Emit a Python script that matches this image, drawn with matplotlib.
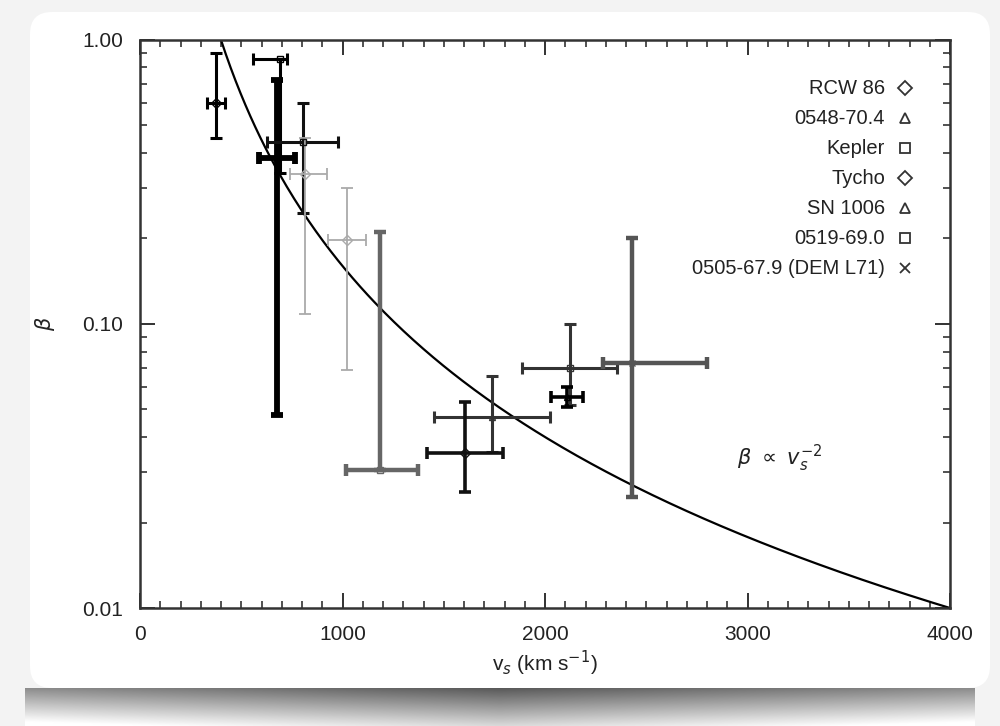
import numpy as np
import matplotlib
matplotlib.use("Agg")
import matplotlib.pyplot as plt
from matplotlib.patches import FancyBboxPatch
from matplotlib.ticker import FixedLocator, MultipleLocator, LogLocator, NullFormatter

# shock velocity (km/s) and beta = Te/Tp
v       = [375, 691, 676, 805, 815, 1022, 1185, 1738, 1605, 2123, 2109, 2430]
v_lo    = [45, 135, 90, 180, 75, 95, 170, 285, 190, 235, 80, 145]
v_hi    = [45, 35, 90, 175, 110, 95, 190, 285, 190, 235, 80, 370]
beta    = [0.60, 0.86, 0.384, 0.437, 0.337, 0.197, 0.0307, 0.047, 0.0352, 0.070, 0.0553, 0.0729]
beta_lo = [0.45, 0.34, 0.048, 0.246, 0.108, 0.069, 0.0307, 0.0354, 0.0257, 0.052, 0.051, 0.0245]
beta_hi = [0.90, 0.86, 0.72, 0.60, 0.45, 0.30, 0.211, 0.0656, 0.0533, 0.100, 0.060, 0.200]

# style of each point
cols   = ['k', 'k', 'k', '#111111', '#aaaaaa', '#aaaaaa', '#666666', '#333333', '#111111', '#333333', 'k', '#555555']
widths = [2.2, 2.2, 4.2, 2.2, 1.3, 1.3, 3.2, 2.2, 2.6, 2.2, 2.6, 3.2]
marks  = ['D', 's', '^', 's', 'D', 'D', 's', '^', 'D', 's', '^', 'x']

names = ['RCW 86', '0548-70.4', 'Kepler', 'Tycho', 'SN 1006', '0519-69.0', '0505-67.9 (DEM L71)']
name_marks = ['D', '^', 's', 'D', '^', 's', 'x']

x_ticks = [0, 1000, 2000, 3000, 4000]
y_ticks = [0.01, 0.1, 1.0]
y_labels = ['0.01', '0.10', '1.00']

plt.rcParams['font.family'] = ['Liberation Sans', 'DejaVu Sans']

fig = plt.figure(figsize=(10, 7.26), dpi=100)
fig.patch.set_facecolor('#f3f3f3')

# paper card + shadow underneath
bg = fig.add_axes([0, 0, 1, 1], zorder=-5)
bg.set_xlim(0, 1000)
bg.set_ylim(726, 0)
bg.axis('off')
gx = np.linspace(-1, 1, 400)
gy = np.linspace(0, 1, 60)
shade = np.outer(0.35 + 0.5 * gy, np.ones_like(gx)) + 0.2 * np.abs(gx)[None, :]
bg.imshow(np.clip(shade, 0, 1), cmap='gray', vmin=0, vmax=1, extent=(25, 975, 726, 688),
          aspect='auto', zorder=1)
bg.add_patch(FancyBboxPatch((30, 12), 960, 676, boxstyle='round,pad=0,rounding_size=22',
                            facecolor='white', edgecolor='none', zorder=2))

ax = fig.add_axes([0.14, 0.1625, 0.81, 0.7825])
ax.set_yscale('log')
ax.set_xlim(0, 4000)
ax.set_ylim(0.01, 1.0)

# beta ~ v^-2 curve
vv = np.linspace(400, 4000, 300)
ax.plot(vv, 1.6e5 / vv**2, color='k', lw=1.6)

for i in range(len(v)):
    yerr = [[beta[i] - beta_lo[i]], [beta_hi[i] - beta[i]]]
    xerr = [[v_lo[i]], [v_hi[i]]]
    ax.errorbar([v[i]], [beta[i]], xerr=xerr, yerr=yerr, fmt=marks[i], ms=5,
                mfc='none', mec=cols[i], color=cols[i], elinewidth=widths[i],
                capsize=4, capthick=widths[i])

# legend-like labels at right
for k, nm in enumerate(names):
    yy = 0.915 - k * 0.0528
    ax.text(0.92, yy, nm, transform=ax.transAxes, ha='right', va='center', fontsize=14.5, color='#222222')
    ax.plot([0.945], [yy], marker=name_marks[k], ms=7, mfc='none', mec='#333333', mew=1.3,
            transform=ax.transAxes, clip_on=False)

ax.text(0.79, 0.264, r'$\beta\ \propto\ v_s^{-2}$', transform=ax.transAxes, ha='center',
        va='center', fontsize=15, color='#222222')

ax.xaxis.set_major_locator(FixedLocator(x_ticks))
ax.xaxis.set_minor_locator(MultipleLocator(100))
ax.yaxis.set_major_locator(FixedLocator(y_ticks))
ax.set_yticklabels(y_labels)
ax.yaxis.set_minor_locator(LogLocator(base=10, subs=np.arange(2, 10)))
ax.yaxis.set_minor_formatter(NullFormatter())
ax.tick_params(which='both', direction='in', top=True, right=True, labelsize=15, colors='#222222')
ax.tick_params(which='major', length=11, width=1.3, pad=12)
ax.tick_params(which='minor', length=5, width=1.1)
for s in ax.spines.values():
    s.set_linewidth(1.8)
    s.set_color('#333333')

ax.set_xlabel(r'v$_s$ (km s$^{-1}$)', fontsize=15, color='#222222', labelpad=4)
ax.set_ylabel(r'$\beta$', fontsize=15, color='#222222', labelpad=18)

fig.savefig('out.png', dpi=100, facecolor=fig.get_facecolor())
